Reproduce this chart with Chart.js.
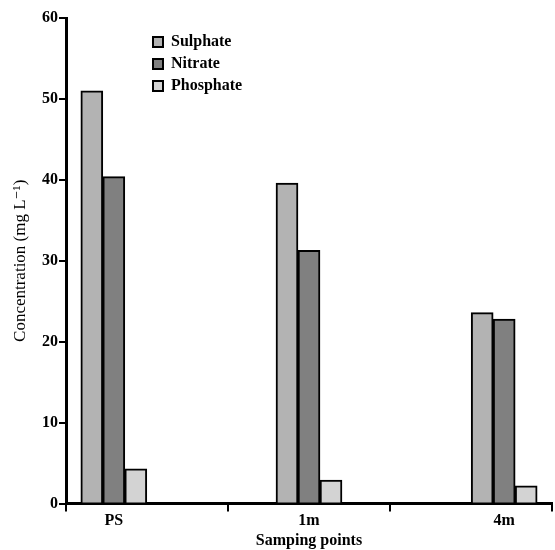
<!DOCTYPE html>
<html>
<head>
<meta charset="utf-8">
<script src="https://cdn.jsdelivr.net/npm/chart.js@4/dist/chart.umd.min.js"></script>
<style>
  html, body { margin: 0; padding: 0; background: #fff; }
  #wrap { width: 555px; height: 550px; position: relative; }
</style>
</head>
<body>
<div id="wrap"><canvas id="c"></canvas></div>
<script>
const categories = ['PS', '1m', '4m'];
const seriesNames = ['Sulphate', 'Nitrate', 'Phosphate'];
const sulphate = [51.0, 39.6, 23.6];
const nitrate = [40.4, 31.3, 22.8];
const phosphate = [4.3, 2.9, 2.2];
const yTicks = [0, 10, 20, 30, 40, 50, 60];

const colors = ['#b3b3b3', '#808080', '#d3d3d3'];
const seriesValues = [sulphate, nitrate, phosphate];
const X_MIN = -0.245, X_MAX = 2.245;
const FONT = "'Liberation Serif', 'DejaVu Serif', serif";

const datasets = seriesNames.map((name, i) => ({
  label: name,
  data: seriesValues[i].map((v, j) => ({ x: j, y: v })),
  backgroundColor: colors[i],
  borderColor: '#000',
  borderWidth: 2,
  borderSkipped: 'bottom',
  barThickness: 22
}));

const legendPlace = {
  id: 'legendPlace',
  afterLayout(chart) {
    const lg = chart.legend;
    if (!lg) return;
    lg.left = chart.chartArea.left + 81;
    lg.top = chart.chartArea.top + 10;
  }
};

new Chart(document.getElementById('c'), {
  type: 'bar',
  data: { datasets },
  plugins: [legendPlace],
  options: {
    responsive: true,
    maintainAspectRatio: false,
    animation: false,
    layout: { padding: { left: 10, right: 3, top: 18, bottom: 0 } },
    plugins: {
      tooltip: { enabled: false },
      legend: {
        position: 'chartArea',
        align: 'start',
        labels: {
          boxWidth: 10,
          boxHeight: 10,
          padding: 6,
          color: '#000',
          font: { family: FONT, size: 16, weight: 'bold' },
          generateLabels(chart) {
            return chart.data.datasets.map((d, i) => ({
              text: d.label,
              fillStyle: d.backgroundColor,
              strokeStyle: '#000',
              lineWidth: 2,
              datasetIndex: i,
              hidden: false
            }));
          }
        }
      }
    },
    scales: {
      y: {
        min: 0, max: 60,
        afterBuildTicks(s) { s.ticks = yTicks.map(v => ({ value: v })); },
        afterFit(s) { s.width = 56; },
        border: { display: true, color: '#000', width: 3 },
        grid: { drawOnChartArea: false, color: '#000', lineWidth: 2, tickLength: 7 },
        ticks: { color: '#000', padding: 1, font: { family: FONT, size: 16, weight: 'bold' } },
        title: {
          display: true,
          text: 'Concentration (mg L\u207B\u00B9)',
          color: '#000',
          padding: { top: 0, bottom: 4 },
          font: { family: FONT, size: 17, weight: 'normal' }
        }
      },
      x: {
        type: 'linear',
        position: 'bottom',
        weight: 0,
        min: X_MIN, max: X_MAX,
        offset: false,
        afterBuildTicks(s) {
          const step = (X_MAX - X_MIN) / 3;
          s.ticks = [0, 1, 2, 3].map(k => ({ value: X_MIN + k * step }));
        },
        border: { display: true, color: '#000', width: 3 },
        grid: { offset: false, drawOnChartArea: false, color: '#000', lineWidth: 2, tickLength: 8 },
        ticks: { display: false }
      },
      x2: {
        type: 'linear',
        position: 'bottom',
        weight: 1,
        offset: false,
        min: X_MIN, max: X_MAX,
        afterBuildTicks(s) { s.ticks = categories.map((c, i) => ({ value: i })); },
        border: { display: false },
        grid: { offset: false, display: false, drawTicks: false },
        ticks: {
          color: '#000',
          padding: 0,
          maxRotation: 0,
          autoSkip: false,
          font: { family: FONT, size: 16, weight: 'bold' },
          callback(v) { return categories[Math.round(v)]; }
        },
        title: {
          display: true,
          text: 'Samping points',
          color: '#000',
          padding: { top: 0, bottom: 0 },
          font: { family: FONT, size: 16, weight: 'bold' }
        }
      }
    }
  }
});
</script>
</body>
</html>
